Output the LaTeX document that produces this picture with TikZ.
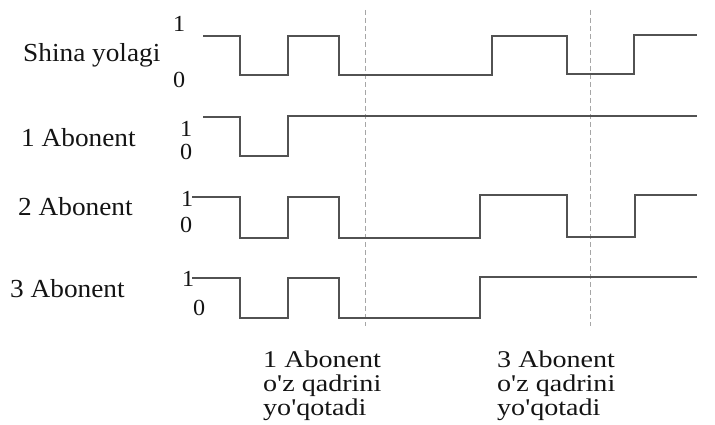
\documentclass[tikz,border=0pt]{standalone}
\usepackage{fontspec}
\setmainfont[FakeStretch=1.05,Ligatures=TeXOff]{Liberation Serif}
\newfontfamily\notefont[FakeStretch=1.17,Ligatures=TeXOff]{Liberation Serif}
\begin{document}
\begin{tikzpicture}[x=1pt,y=-1pt,
  sig/.style={draw=black!68,line width=2.4pt,line join=miter},
  guide/.style={draw=black!35,line width=0.9pt,dash pattern=on 5pt off 3pt},
  lbl/.style={font=\fontsize{26}{26}\selectfont,anchor=base west,inner sep=0pt,text=black!92},
  lvl/.style={font=\fontsize{23}{24}\selectfont,anchor=base west,inner sep=0pt,text=black!92},
  note/.style={font=\notefont\fontsize{24}{24}\selectfont,anchor=north west,inner sep=0pt,align=left,text=black!92}]
\useasboundingbox (0,0) rectangle (715,425);
% guide lines
\draw[guide] (365,10) -- (365,326);
\draw[guide] (590,10) -- (590,326);
% row labels
\node[lbl] (r1) at (23,62) {Shina yolagi};
\node[lbl] (r2) at (21,147) {1 Abonent};
\node[lbl] (r3) at (18,215) {2 Abonent};
\node[lbl] (r4) at (10,297) {3 Abonent};
% level labels
\node[lvl] (h1) at (173,32) {1};
\node[lvl] (l1) at (173,88) {0};
\node[lvl] (h2) at (180,137) {1};
\node[lvl] (l2) at (180,160) {0};
\node[lvl] (h3) at (181,207) {1};
\node[lvl] (l3) at (180,232) {0};
\node[lvl] (h4) at (182,286) {1};
\node[lvl] (l4) at (193,315) {0};
% signals
\draw[sig] (203,36) -- (240,36) -- (240,75) -- (288,75) -- (288,36) -- (339,36) -- (339,75)
  -- (492,75) -- (492,36) -- (567,36) -- (567,74) -- (634,74) -- (634,35) -- (697,35);
\draw[sig] (203,117) -- (240,117) -- (240,156) -- (288,156) -- (288,116) -- (697,116);
\draw[sig] (192,197) -- (240,197) -- (240,238) -- (288,238) -- (288,197) -- (339,197) -- (339,238)
  -- (480,238) -- (480,195) -- (567,195) -- (567,237) -- (635,237) -- (635,195) -- (697,195);
\draw[sig] (192,278) -- (240,278) -- (240,318) -- (288,318) -- (288,278) -- (339,278) -- (339,318)
  -- (480,318) -- (480,277) -- (697,277);
% notes
\node[note] (n1) at (263,351) {1 Abonent\\o'z qadrini\\yo'qotadi};
\node[note] (n2) at (497,351) {3 Abonent\\o'z qadrini\\yo'qotadi};
\end{tikzpicture}
\end{document}
